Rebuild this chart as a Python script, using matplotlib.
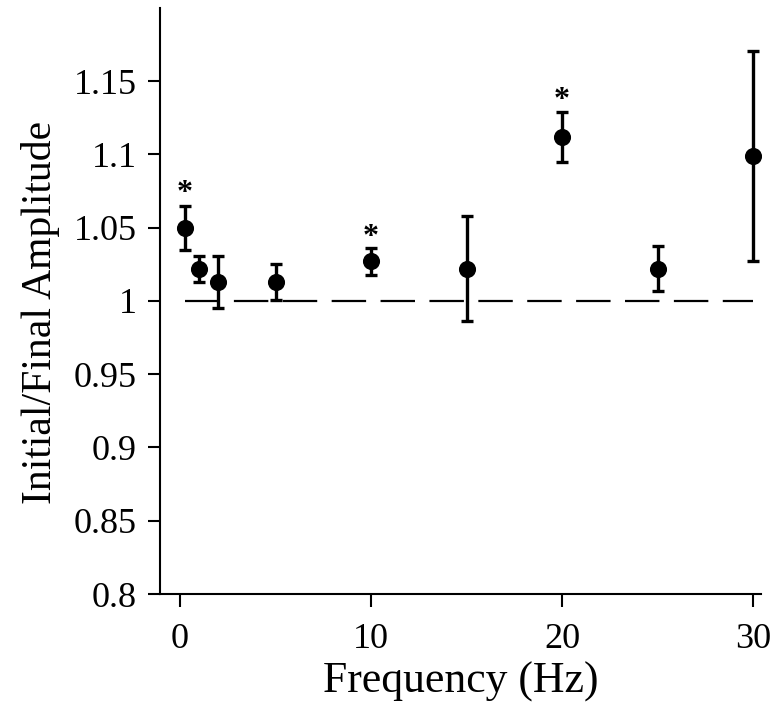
import matplotlib
matplotlib.use("Agg")
import matplotlib.pyplot as plt
import numpy as np

plt.rcParams['font.family'] = ['Liberation Serif', 'DejaVu Serif']

# data
freq = [0.25, 1, 2, 5, 10, 15, 20, 25, 30]
ratio = [1.050, 1.022, 1.013, 1.013, 1.027, 1.022, 1.112, 1.022, 1.099]
err = [0.015, 0.009, 0.018, 0.0125, 0.009, 0.036, 0.017, 0.0155, 0.0715]

# significance markers
star_x = [0.25, 10, 20]
star_y = [1.073, 1.043, 1.137]

yticks = [0.8, 0.85, 0.9, 0.95, 1.0, 1.05, 1.1, 1.15]
ytick_labels = ['0.8', '0.85', '0.9', '0.95', '1', '1.05', '1.1', '1.15']
xticks = [0, 10, 20, 30]

fig = plt.figure(figsize=(7.78, 7.14), dpi=100)
ax = fig.add_axes([0.2057, 0.168, 0.772, 0.821])

# reference line at 1
ax.plot([freq[0], freq[-1]], [1, 1], color='black', lw=1.6,
        linestyle=(0, (15.5, 6.5)), zorder=1)

ax.errorbar(freq, ratio, yerr=err, fmt='o', color='black', ms=11.3,
            elinewidth=2.4, capsize=4, capthick=2.4, zorder=3)

for sx, sy in zip(star_x, star_y):
    ax.text(sx, sy, '*', ha='center', va='center', fontsize=23,
            fontweight='bold')

ax.set_xlim(-1.05, 30.4)
ax.set_ylim(0.8, 1.2)
ax.set_xticks(xticks)
ax.set_yticks(yticks)
ax.set_yticklabels(ytick_labels)

for s in ['top', 'right']:
    ax.spines[s].set_visible(False)
for s in ['left', 'bottom']:
    ax.spines[s].set_linewidth(1.5)

ax.tick_params(direction='out', length=9, width=1.5, labelsize=26)
ax.tick_params(axis='x', pad=12)
ax.tick_params(axis='y', pad=8)
ax.set_xlabel('Frequency (Hz)', fontsize=31.5, labelpad=4)
ax.set_ylabel('Initial/Final Amplitude', fontsize=30)
ax.yaxis.set_label_coords(-0.167, 0.48)

fig.savefig('out.png', dpi=100)
